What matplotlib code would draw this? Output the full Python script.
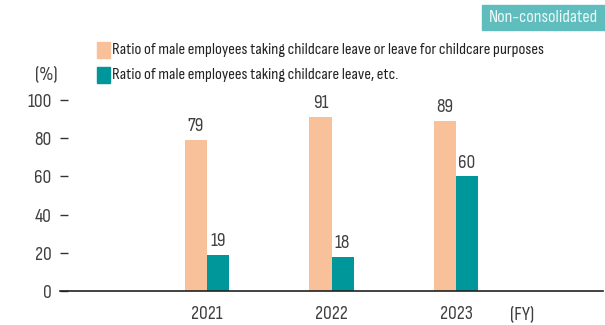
import numpy as np
import matplotlib
matplotlib.use("Agg")
import matplotlib.pyplot as plt
from matplotlib.patches import Rectangle

years = ["2021", "2022", "2023"]
ratio_all = [79, 91, 89]
ratio_etc = [19, 18, 60]
label_all = "Ratio of male employees taking childcare leave or leave for childcare purposes"
label_etc = "Ratio of male employees taking childcare leave, etc."
yticks = [0, 20, 40, 60, 80, 100]

peach = "#F8C199"
teal = "#00979B"
txt = "#3f3f3f"

plt.rcParams['font.family'] = ['Sofia Sans Condensed', 'Roboto Condensed', 'DejaVu Sans']
fs = 14     # numbers
fl = 12     # legend

fig = plt.figure(figsize=(6.05, 3.25), dpi=100)
ax = fig.add_axes([60 / 605, 1 - 291 / 325, 543 / 605, 191 / 325])

x = np.arange(len(years))
w = 0.177
b1 = ax.bar(x - w / 2, ratio_all, w, color=peach)
b2 = ax.bar(x + w / 2, ratio_etc, w, color=teal)
for rect, v in zip(list(b1) + list(b2), ratio_all + ratio_etc):
    ax.text(rect.get_x() + rect.get_width() / 2, v + 2.5, str(v), ha="center", va="bottom",
            fontsize=fs, color=txt, clip_on=False)

ax.set_xlim(-1.18, 3.18)
ax.set_ylim(0, 100)
ax.set_yticks(yticks)
ax.set_yticklabels([str(t) for t in yticks], fontsize=fs, color=txt)
ax.set_xticks(x)
ax.set_xticklabels(years, fontsize=fs, color=txt)
ax.tick_params(axis="x", length=0, pad=10)
ax.tick_params(axis="y", direction="in", length=6, width=1.0, color="#333333", pad=6)
for s in ["top", "right", "left"]:
    ax.spines[s].set_visible(False)
ax.spines["bottom"].set_color("#222222")
ax.spines["bottom"].set_linewidth(1.2)

fig.text(522 / 605, 1 - 315 / 325, "(FY)", ha="center", va="center", fontsize=fs, color=txt)
fig.text(46 / 605, 1 - 75 / 325, "(%)", ha="center", va="center", fontsize=fs, color=txt)

# legend
for y0, c, lab in [(42, peach, label_all), (67, teal, label_etc)]:
    fig.patches.append(Rectangle((97 / 605, 1 - (y0 + 16) / 325), 13 / 605, 16 / 325,
                                 transform=fig.transFigure, color=c))
    fig.text(112 / 605, 1 - (y0 + 8) / 325, lab, ha="left", va="center", fontsize=fl, color="#222222")

# badge
fig.patches.append(Rectangle((482 / 605, 1 - 30 / 325), 123 / 605, 25 / 325,
                             transform=fig.transFigure, color="#60BDBD"))
fig.text(543 / 605, 1 - 17.5 / 325, "Non-consolidated", ha="center", va="center", fontsize=13, color="#EEF8F8")

fig.savefig("out.png", dpi=100)
